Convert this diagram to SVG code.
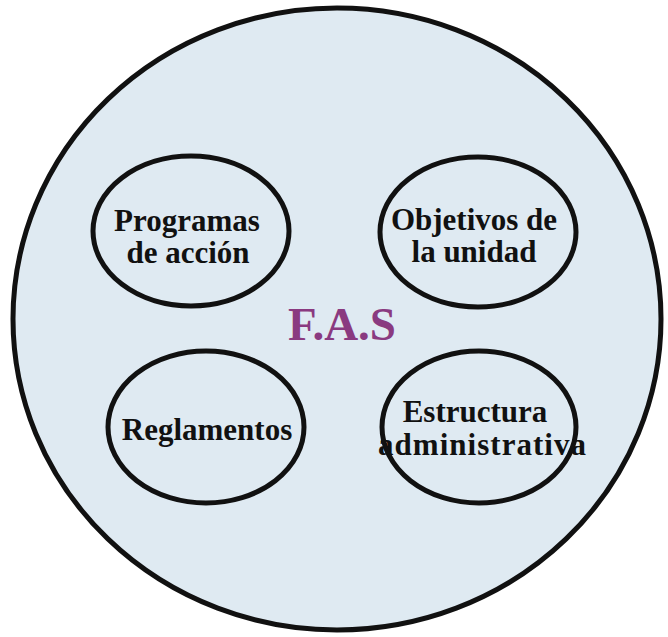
<svg xmlns="http://www.w3.org/2000/svg" width="668" height="637" viewBox="0 0 668 637">
<style>
.lbl{font-family:"Liberation Serif","Times New Roman",serif;font-weight:bold;font-size:31px;fill:#111;text-anchor:middle}
.ov{fill:none;stroke:#111;stroke-width:5}
</style>
<rect width="668" height="637" fill="#ffffff"/>
<g id="outer">
<ellipse cx="337" cy="319" rx="324" ry="311" fill="#dfeaf2" stroke="#111" stroke-width="5"/>
<text x="342" y="340" font-family="Liberation Serif,serif" font-weight="bold" font-size="47" fill="#8a3a80" text-anchor="middle">F.A.S</text>
</g>
<g id="programas">
<text class="lbl" x="187" y="231">Programas</text>
<text class="lbl" x="188" y="263">de acción</text>
<ellipse class="ov" cx="191" cy="231" rx="98" ry="75"/>
</g>
<g id="objetivos">
<text class="lbl" x="474" y="230">Objetivos de</text>
<text class="lbl" x="474" y="262">la unidad</text>
<ellipse class="ov" cx="478" cy="232" rx="98" ry="75"/>
</g>
<g id="reglamentos">
<text class="lbl" x="207" y="440">Reglamentos</text>
<ellipse class="ov" cx="206" cy="427" rx="98" ry="76"/>
</g>
<g id="estructura">
<text class="lbl" x="475" y="422">Estructura</text>
<text class="lbl" x="482" y="455" textLength="208">administrativa</text>
<ellipse class="ov" cx="479" cy="427" rx="97" ry="76"/>
</g>
<g id="connectors"></g>
</svg>
